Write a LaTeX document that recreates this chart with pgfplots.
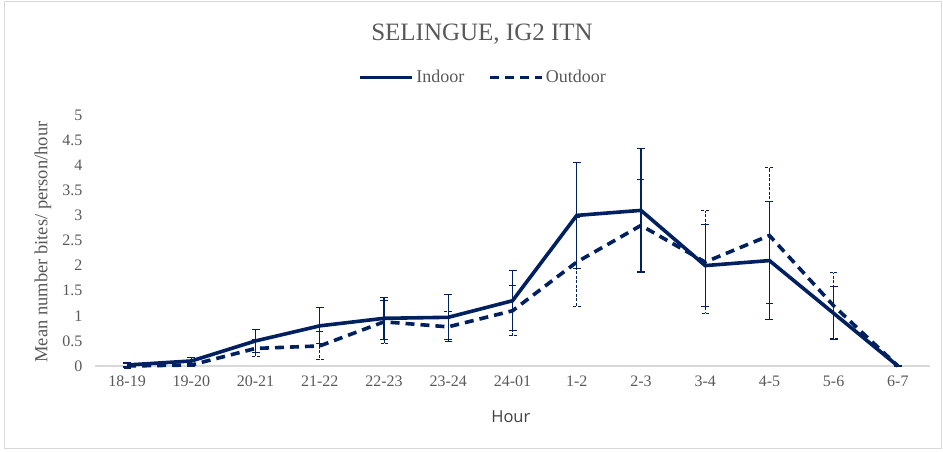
\documentclass[border=0pt]{standalone}
\usepackage{pgfplots}
\pgfplotsset{compat=1.18}
\usepackage{pgfplotstable}
\usepackage{fontspec}
\setmainfont{Liberation Serif}
\newfontfamily\hourfont{Open Sans}

\definecolor{navy}{RGB}{0,32,96}
\definecolor{txtgray}{RGB}{89,89,89}
\definecolor{framegray}{RGB}{217,217,217}

% x: 0 = 18-19 ... 12 = 6-7 ; e = symmetric error
\pgfplotstableread{
x y e
0 0.02 0.04
1 0.10 0.07
2 0.50 0.23
3 0.80 0.36
4 0.95 0.42
5 0.97 0.45
6 1.30 0.60
7 3.00 1.05
8 3.10 1.23
9 2.00 0.81
10 2.10 1.18
11 1.05 0.53
12 0.00 0.00
}\indoor

\pgfplotstableread{
x y e
0 0.00 0.05
1 0.02 0.03
2 0.35 0.17
3 0.40 0.28
4 0.88 0.43
5 0.78 0.30
6 1.10 0.50
7 2.07 0.89
8 2.80 0.92
9 2.07 1.02
10 2.60 1.35
11 1.20 0.66
12 0.00 0.00
}\outdoor

\begin{document}
\begin{tikzpicture}[x=1pt,y=1pt]
\path (0,0) rectangle (943,451);
\draw[framegray,line width=0.8pt] (4,3) rectangle (941,450);
\begin{axis}[
  at={(95pt,85pt)},anchor=south west,
  scale only axis,width=835pt,height=251pt,
  xmin=-0.5,xmax=12.5,ymin=0,ymax=5,
  xtick={0,...,12},
  xticklabels={18-19,19-20,20-21,21-22,22-23,23-24,24-01,1-2,2-3,3-4,4-5,5-6,6-7},
  ytick={0,0.5,...,5},
  /pgf/number format/fixed,
  /pgf/number format/precision=1,
  /pgf/number format/assume math mode=true,
  major tick length=0pt,
  tick label style={font=\fontsize{16}{18}\selectfont,text=txtgray},
  xticklabel style={yshift=-6pt},
  yticklabel style={xshift=-9pt},
  axis line style={draw=none},
  axis x line*=bottom,axis y line*=left,
  title={SELINGUE, IG2 ITN},
  title style={at={(axis description cs:0.4635,1.30)},anchor=center,
    font=\fontsize{25}{28}\selectfont,text=txtgray},
  ylabel={Mean number bites/ person/hour},
  ylabel style={at={(axis description cs:-0.0623,0.494)},anchor=center,
    font=\fontsize{18.5}{20}\selectfont,text=txtgray},
  xlabel={\hourfont Hour},
  xlabel style={at={(axis description cs:0.498,-0.203)},anchor=center,
    font=\fontsize{16.5}{18}\selectfont,text=black!75},
  legend columns=2,
  legend style={at={(axis description cs:0.465,1.15)},anchor=center,draw=none,fill=none,
    font=\fontsize{18}{20}\selectfont,text=txtgray,
    /tikz/every even column/.append style={column sep=22pt}},
  legend image code/.code={\draw[#1] (0pt,0pt) -- (52pt,0pt);},
  clip=false,
]
\draw[framegray,line width=1.2pt] (axis cs:-0.5,0) -- (axis cs:12.5,0);
\addplot[navy,line width=3.6pt,mark=none,
  error bars/.cd,y dir=both,y explicit,error mark=-,
  error bar style={line width=1.1pt,solid},
  error mark options={rotate=90,line width=1.1pt,mark size=4pt,solid}]
  table[x=x,y=y,y error=e] {\indoor};
\addlegendentry{Indoor}
\addplot[navy,line width=3.6pt,mark=none,dash pattern=on 9pt off 6pt,
  error bars/.cd,y dir=both,y explicit,error mark=-,
  error bar style={line width=1pt,dash pattern=on 3pt off 1.5pt},
  error mark options={rotate=90,line width=1pt,mark size=4pt,dash pattern=on 3pt off 1.5pt}]
  table[x=x,y=y,y error=e] {\outdoor};
\addlegendentry{Outdoor}
\end{axis}
\end{tikzpicture}
\end{document}
